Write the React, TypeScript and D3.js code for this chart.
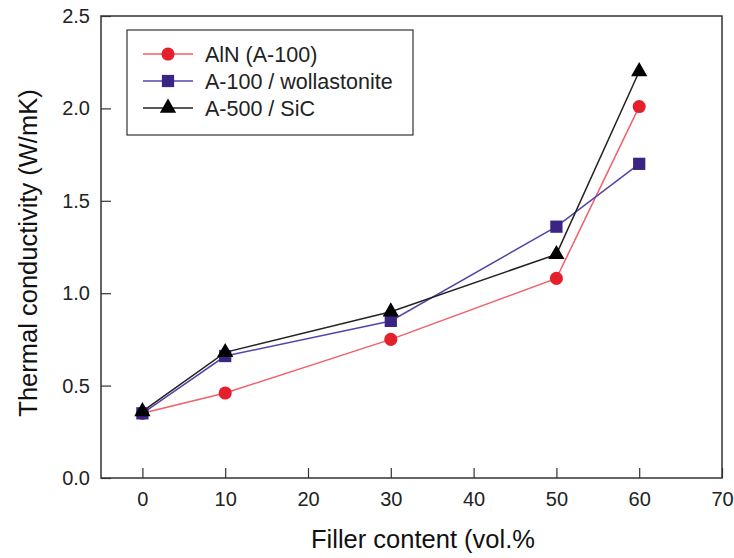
import React, {useEffect, useRef} from 'react';
import * as d3 from 'd3';

const filler = [0, 10, 30, 50, 60];
const alnA100 = [0.35, 0.46, 0.75, 1.08, 2.01];
const a100Wollastonite = [0.35, 0.66, 0.85, 1.36, 1.70];
const a500SiC = [0.36, 0.68, 0.90, 1.21, 2.20];
const xTicks = [0, 10, 20, 30, 40, 50, 60, 70];
const yTicks = [0, 0.5, 1.0, 1.5, 2.0, 2.5];
const seriesNames = ['AlN (A-100)', 'A-100 / wollastonite', 'A-500 / SiC'];

const App = () => {
  const svgRef = useRef<SVGSVGElement>(null);

  useEffect(() => {
    const svg = d3.select(svgRef.current);
    svg.selectAll('*').remove();

    const left = 101, right = 722, top = 16, bottom = 478;
    const x = d3.scaleLinear().domain([-5, 70]).range([left, right]);
    const y = d3.scaleLinear().domain([0, 2.5]).range([bottom, top]);
    const font = 'Arial, "Liberation Sans", sans-serif';

    // frame
    svg.append('rect')
      .attr('x', left).attr('y', top)
      .attr('width', right - left).attr('height', bottom - top)
      .attr('fill', 'none').attr('stroke', '#333').attr('stroke-width', 1.5);

    const xAxis = svg.append('g')
      .attr('transform', `translate(0,${bottom})`)
      .call(d3.axisBottom(x).tickValues(xTicks).tickSize(-10).tickPadding(14).tickFormat(d3.format('d')));
    xAxis.select('.domain').remove();
    xAxis.selectAll('line').attr('stroke', '#333').attr('stroke-width', 1.2);
    xAxis.selectAll('text').attr('font-family', font).attr('font-size', 20).attr('fill', '#222');

    const yAxis = svg.append('g')
      .attr('transform', `translate(${left},0)`)
      .call(d3.axisLeft(y).tickValues(yTicks).tickSize(-10).tickPadding(11).tickFormat(d3.format('.1f')));
    yAxis.select('.domain').remove();
    yAxis.selectAll('line').attr('stroke', '#333').attr('stroke-width', 1.2);
    yAxis.selectAll('text').attr('font-family', font).attr('font-size', 20).attr('fill', '#222');

    svg.append('text')
      .attr('x', 423).attr('y', 548)
      .attr('text-anchor', 'middle')
      .attr('font-family', font).attr('font-size', 25.5).attr('fill', '#111')
      .text('Filler content (vol.%');

    svg.append('text')
      .attr('transform', `translate(37,253) rotate(-90)`)
      .attr('text-anchor', 'middle')
      .attr('font-family', font).attr('font-size', 25.5).attr('fill', '#111')
      .text('Thermal conductivity (W/mK)');

    const series = [
      {name: seriesNames[0], values: alnA100, line: '#f0606a', fill: '#e3202c', shape: 'circle'},
      {name: seriesNames[1], values: a100Wollastonite, line: '#5544a8', fill: '#3a2585', shape: 'square'},
      {name: seriesNames[2], values: a500SiC, line: '#222', fill: '#000', shape: 'triangle'},
    ];

    const lineGen = d3.line<number>()
      .x((_, i) => x(filler[i]))
      .y((d) => y(d));

    const symbolFor = (shape: string) => {
      if (shape === 'circle') return d3.symbol().type(d3.symbolCircle).size(135)();
      if (shape === 'square') return d3.symbol().type(d3.symbolSquare).size(150)();
      return d3.symbol().type(d3.symbolTriangle).size(115)();
    };

    series.forEach((s) => {
      svg.append('path')
        .attr('d', lineGen(s.values))
        .attr('fill', 'none')
        .attr('stroke', s.line)
        .attr('stroke-width', 1.5);
    });

    // markers drawn after all lines
    series.forEach((s) => {
      svg.append('g')
        .selectAll('path')
        .data(s.values)
        .join('path')
        .attr('transform', (d, i) => `translate(${x(filler[i])},${y(d)})`)
        .attr('d', symbolFor(s.shape))
        .attr('fill', s.fill);
    });

    // legend
    const legend = svg.append('g');
    legend.append('rect')
      .attr('x', 127).attr('y', 30).attr('width', 286).attr('height', 105)
      .attr('fill', 'white').attr('stroke', '#333').attr('stroke-width', 1.2);
    series.forEach((s, i) => {
      const ly = 54 + i * 27;
      legend.append('line')
        .attr('x1', 143).attr('x2', 193).attr('y1', ly).attr('y2', ly)
        .attr('stroke', s.line).attr('stroke-width', 1.5);
      legend.append('path')
        .attr('transform', `translate(168,${ly})`)
        .attr('d', symbolFor(s.shape))
        .attr('fill', s.fill);
      legend.append('text')
        .attr('x', 205).attr('y', ly).attr('dy', '0.35em')
        .attr('font-family', font).attr('font-size', 21.5).attr('fill', '#222')
        .text(s.name);
    });
  }, []);

  return (
    <svg ref={svgRef} width={734} height={558} style={{display: 'block', position: 'absolute', left: 0, top: 0}}>
    </svg>
  );
};

export default App;
